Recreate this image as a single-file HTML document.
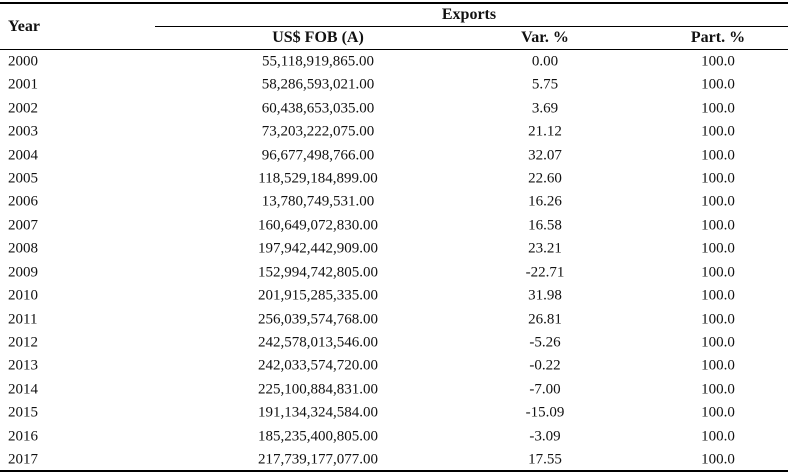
<!DOCTYPE html>
<html><head><meta charset="utf-8"><style>
body{margin:0;background:#fff;}
#t{position:relative;width:788px;height:475px;font-family:"Liberation Serif",serif;font-size:15px;color:#111;}
.c{position:absolute;white-space:nowrap;transform:translate(-50%,-50%);}
.l{position:absolute;white-space:nowrap;transform:translateY(-50%);}
.h{font-weight:bold;font-size:16px;}
.line{position:absolute;background:#000;}
</style></head><body>
<div id="t">
<div class="line" style="left:0;top:2px;width:788px;height:2px"></div>
<div class="line" style="left:155px;top:26px;width:633px;height:1px"></div>
<div class="line" style="left:0;top:49px;width:788px;height:1px"></div>
<div class="line" style="left:0;top:470px;width:788px;height:2px"></div>
<div class="l h" style="left:8px;top:27px">Year</div>
<div class="c h" style="left:469px;top:15px">Exports</div>
<div class="c h" style="left:318px;top:38px">US$ FOB (A)</div>
<div class="c h" style="left:545px;top:38px">Var. %</div>
<div class="c h" style="left:718px;top:38px">Part. %</div>
</div>
<script>
const years=["2000","2001","2002","2003","2004","2005","2006","2007","2008","2009","2010","2011","2012","2013","2014","2015","2016","2017"];
const fob=["55,118,919,865.00","58,286,593,021.00","60,438,653,035.00","73,203,222,075.00","96,677,498,766.00","118,529,184,899.00","13,780,749,531.00","160,649,072,830.00","197,942,442,909.00","152,994,742,805.00","201,915,285,335.00","256,039,574,768.00","242,578,013,546.00","242,033,574,720.00","225,100,884,831.00","191,134,324,584.00","185,235,400,805.00","217,739,177,077.00"];
const varp=["0.00","5.75","3.69","21.12","32.07","22.60","16.26","16.58","23.21","-22.71","31.98","26.81","-5.26","-0.22","-7.00","-15.09","-3.09","17.55"];
const part=["100.0","100.0","100.0","100.0","100.0","100.0","100.0","100.0","100.0","100.0","100.0","100.0","100.0","100.0","100.0","100.0","100.0","100.0"];
const t=document.getElementById('t');
function cell(cls,x,y,txt,name){const d=document.createElement('div');d.className=cls;d.style.left=x+'px';d.style.top=y+'px';d.textContent=txt;


t.appendChild(d);}
years.forEach((y,i)=>{const yy=62+i*23.41;
cell('l',8,yy,y,'year-cell');
cell('c',318,yy,fob[i],'fob-cell');
cell('c',545,yy,varp[i],'var-cell');
cell('c',718,yy,part[i],'part-cell');});
</script>
</body></html>
